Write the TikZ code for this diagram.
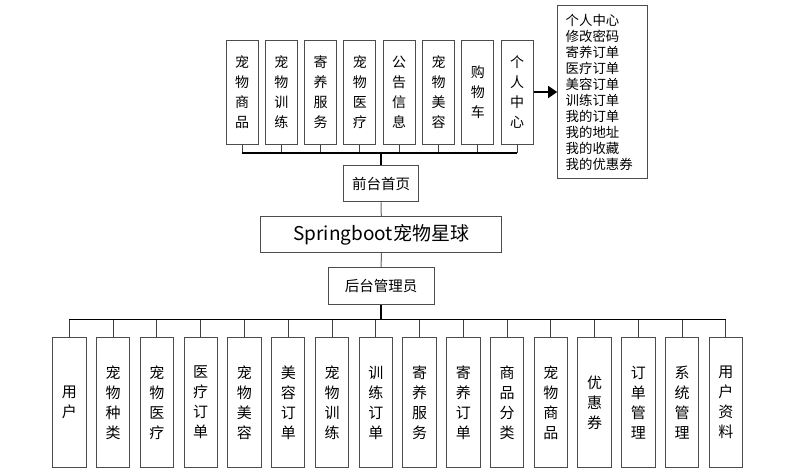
\documentclass[tikz,border=0pt]{standalone}
\usepackage{fontspec}
\setmainfont{Noto Sans CJK SC}
\usetikzlibrary{arrows.meta}
\begin{document}
\begin{tikzpicture}[x=1pt,y=-1pt,
  box/.style={draw=black!70,line width=1pt,fill=white,inner sep=0pt,align=center},
  topbox/.style={box,minimum width=32pt,minimum height=104pt,font=\fontsize{14}{20}\selectfont},
  botbox/.style={box,minimum width=33.4pt,minimum height=129.6pt,font=\fontsize{15}{20}\selectfont},
  bus/.style={line width=1.2pt,black},
  drop/.style={line width=1pt,black!75},
  trunk/.style={line width=2pt,black},
  link/.style={line width=1pt,black!60}]
\useasboundingbox (0,0) rectangle (812,475);
% top boxes
\foreach \t [count=\i from 0] in {宠\\物\\商\\品,宠\\物\\训\\练,寄\\养\\服\\务,宠\\物\\医\\疗,公\\告\\信\\息,宠\\物\\美\\容,购\\物\\车,个\\人\\中\\心}
  \node[topbox] (t\i) at ({242+39.3*\i},92) {\t};
\node[box,minimum width=90pt,minimum height=173.3pt,align=left,text width=74pt,inner xsep=8pt,font=\fontsize{13.4}{16}\selectfont,anchor=center] (list) at (602.7,92.3)
 {个人中心\\修改密码\\寄养订单\\医疗订单\\美容订单\\训练订单\\我的订单\\我的地址\\我的收藏\\我的优惠券};
\draw[line width=1.6pt,-{Triangle[length=9pt,width=12pt]}] (t7.east) -- (t7.east -| list.west);
% centre column
\node[box,minimum width=75pt,minimum height=36.5pt,font=\fontsize{14.5}{18}\selectfont] (front) at (381,183.5) {前台首页};
\node[box,minimum width=240.7pt,minimum height=36pt,font=\fontsize{19}{22}\selectfont] (main) at (381.3,234.7) {Springboot宠物星球};
\node[box,minimum width=106.3pt,minimum height=36.6pt,font=\fontsize{14.5}{18}\selectfont] (admin) at (381.2,286) {后台管理员};
\draw[link] (front.south) -- (main.north);
\draw[link] (main.south) -- (admin.north);
% top bus
\coordinate (tb) at (0,153);
\foreach \i in {0,...,7} \draw[drop] (t\i.south) -- (t\i.south |- tb);
\draw[bus] (t0.south |- tb) -- (t7.south |- tb);
\draw[trunk] (front.north) -- (front.north |- tb);
% bottom boxes
\foreach \t [count=\i from 0] in {用\\户,宠\\物\\种\\类,宠\\物\\医\\疗,医\\疗\\订\\单,宠\\物\\美\\容,美\\容\\订\\单,宠\\物\\训\\练,训\\练\\订\\单,寄\\养\\服\\务,寄\\养\\订\\单,商\\品\\分\\类,宠\\物\\商\\品,优\\惠\\券,订\\单\\管\\理,系\\统\\管\\理,用\\户\\资\\料}
  \node[botbox] (b\i) at ({69.4+43.77*\i},402.5) {\t};
\coordinate (bb) at (0,319.3);
\foreach \i in {0,...,15} \draw[drop] (b\i.north) -- (b\i.north |- bb);
\draw[bus] (b0.north |- bb) -- (b15.north |- bb);
\draw[trunk] (admin.south) -- (admin.south |- bb);
\end{tikzpicture}
\end{document}
